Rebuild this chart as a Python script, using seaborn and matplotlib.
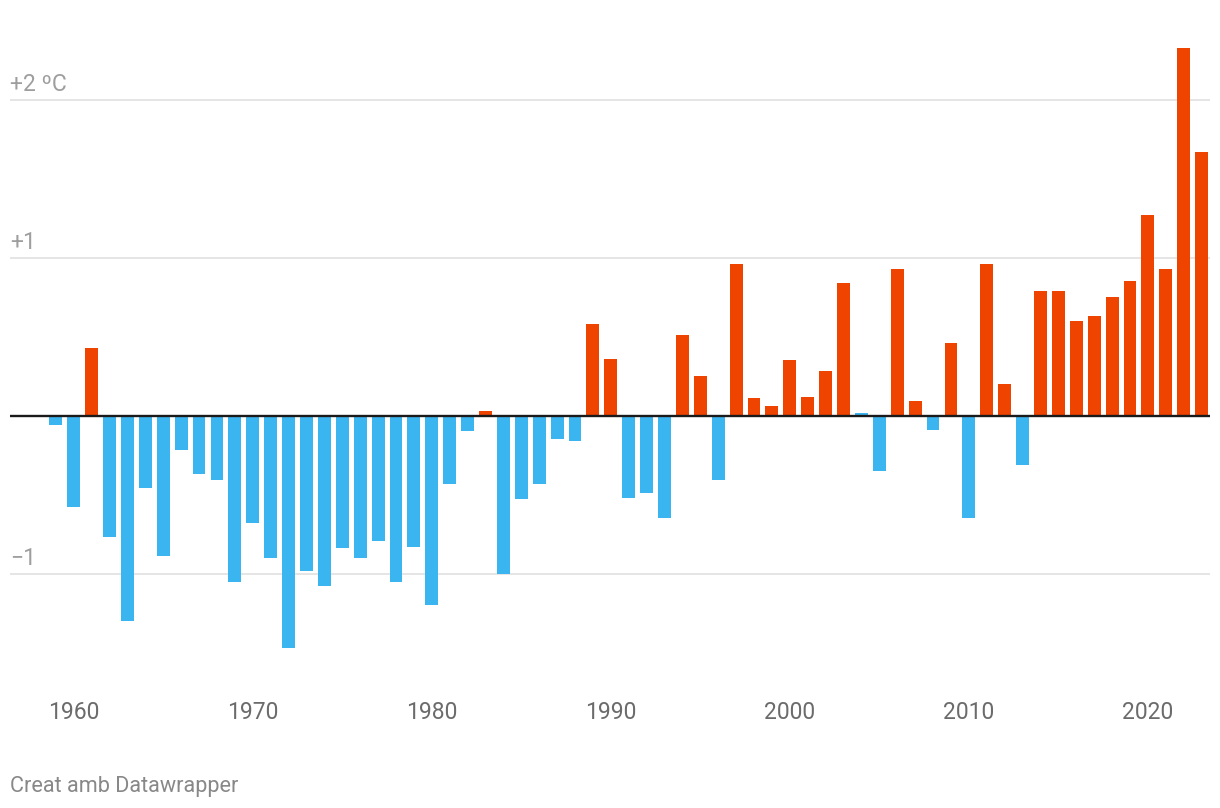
import matplotlib
matplotlib.use("Agg")
import matplotlib.pyplot as plt
import matplotlib.transforms as mtransforms
import pandas as pd
import seaborn as sns

# Annual temperature anomaly (ºC)
YEARS = [1959, 1960, 1961, 1962, 1963, 1964, 1965, 1966, 1967, 1968,
         1969, 1970, 1971, 1972, 1973, 1974, 1975, 1976, 1977, 1978,
         1979, 1980, 1981, 1982, 1983, 1984, 1985, 1986, 1987, 1988,
         1989, 1990, 1991, 1992, 1993, 1994, 1995, 1996, 1997, 1998,
         1999, 2000, 2001, 2002, 2003, 2004, 2005, 2006, 2007, 2008,
         2009, 2010, 2011, 2012, 2013, 2014, 2015, 2016, 2017, 2018,
         2019, 2020, 2021, 2022, 2023]
ANOMALY = [-0.06, -0.58, 0.43, -0.77, -1.30, -0.46, -0.89, -0.22, -0.37, -0.41,
           -1.05, -0.68, -0.90, -1.47, -0.98, -1.08, -0.84, -0.90, -0.79, -1.05,
           -0.83, -1.20, -0.43, -0.10, 0.03, -1.00, -0.53, -0.43, -0.15, -0.16,
           0.58, 0.36, -0.52, -0.49, -0.65, 0.51, 0.25, -0.41, 0.96, 0.11,
           0.06, 0.35, 0.12, 0.28, 0.84, 0.015, -0.35, 0.93, 0.09, -0.09,
           0.46, -0.65, 0.96, 0.20, -0.31, 0.79, 0.79, 0.60, 0.63, 0.75,
           0.85, 1.27, 0.93, 2.33, 1.67]
X_TICKS = [1960, 1970, 1980, 1990, 2000, 2010, 2020]
Y_TICKS = [2, 1, -1]
Y_LABELS = ["+2 ºC", "+1", "\u22121"]
CREDIT = "Creat amb Datawrapper"

WARM, COLD = "#ee4400", "#3bb5f0"

df = pd.DataFrame({"year": YEARS, "anomaly": ANOMALY})
df["kind"] = ["warm" if v > 0.02 else "cold" for v in df["anomaly"]]

sns.set_theme(style="white")
plt.rcParams["font.family"] = ["Roboto", "DejaVu Sans"]

W, H = 1220, 808
fig = plt.figure(figsize=(W / 100, H / 100), dpi=100)
ax = fig.add_axes([10 / W, (H - 690) / H, 1200 / W, 660 / H])

sns.barplot(data=df, x="year", y="anomaly", hue="kind",
            palette={"warm": WARM, "cold": COLD}, native_scale=True,
            width=0.72, dodge=False, legend=False, saturation=1,
            linewidth=0, ax=ax, zorder=2)

ax.set_xlim(1956.44, 2023.47)
ax.set_ylim(-1.736, 2.441)

# light gridlines and the black zero baseline
for v in Y_TICKS:
    ax.axhline(v, color="#e5e5e5", lw=1.4, zorder=1)
ax.axhline(0, color="#1a1a1a", lw=1.7, zorder=3)

trans = mtransforms.blended_transform_factory(ax.transAxes, ax.transData)
for v, lab in zip(Y_TICKS, Y_LABELS):
    ax.annotate(lab, xy=(0, v), xycoords=trans, xytext=(0, 6.3),
                textcoords="offset points", ha="left", va="baseline",
                fontsize=16.5, color="#9e9e9e")

ax.set_yticks([])
ax.set_xticks(X_TICKS)
ax.set_xticklabels([str(t) for t in X_TICKS])
ax.tick_params(axis="x", length=0, pad=8, labelsize=16.5, labelcolor="#6b6b6b")
ax.set_xlabel("")
ax.set_ylabel("")
sns.despine(ax=ax, left=True, bottom=True)

fig.text(10 / W, 1 - 792 / H, CREDIT, ha="left", va="baseline",
         fontsize=15.6, color="#888888")

fig.savefig("out.png", dpi=100, facecolor="white")
